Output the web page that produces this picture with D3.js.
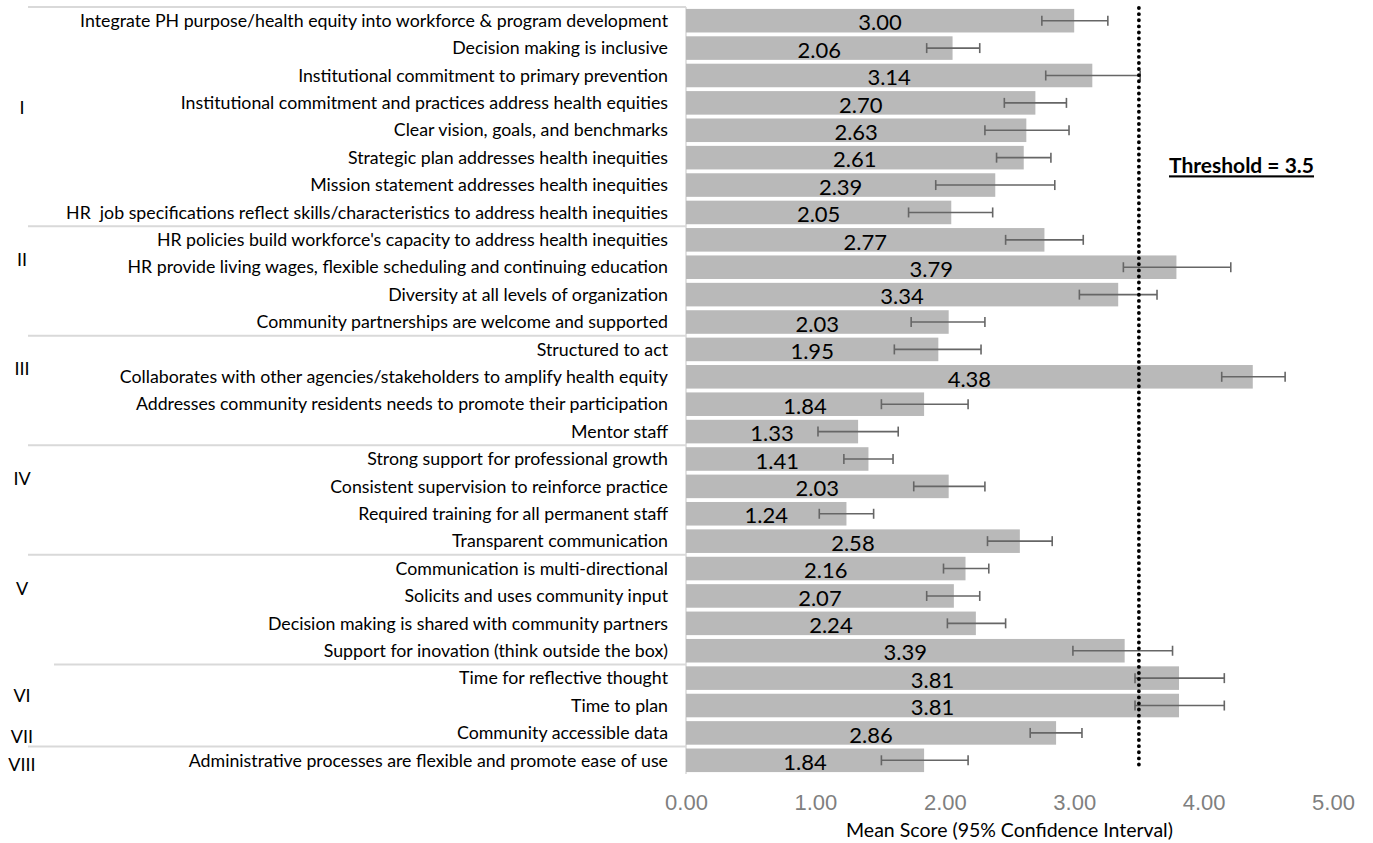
<!DOCTYPE html>
<html lang="en">
<head>
  <meta charset="UTF-8">
  <title>Mean Score by Item</title>
  <script src="https://d3js.org/d3.v7.min.js"></script>
  <style>
    body { margin: 0; background: #fff; font-family: Lato, "Open Sans", sans-serif; }
    .cat { font-size: 17.75px; fill: #000; white-space: pre; }
    .grp { font-size: 18px; fill: #000; }
    .val { font-size: 22px; fill: #000; }
    .tick text { font-size: 22px; fill: #7f7f7f; }
  </style>
</head>
<body>
<div id="chart"></div>
<script>
// data
const categories = [
  "Integrate PH purpose/health equity into workforce & program development",
  "Decision making is inclusive",
  "Institutional commitment to primary prevention",
  "Institutional commitment and practices address health equities",
  "Clear vision, goals, and benchmarks",
  "Strategic plan addresses health inequities",
  "Mission statement addresses health inequities",
  "HR  job specifications reflect skills/characteristics to address health inequities",
  "HR policies build workforce's capacity to address health inequities",
  "HR provide living wages, flexible scheduling and continuing education",
  "Diversity at all levels of organization",
  "Community partnerships are welcome and supported",
  "Structured to act",
  "Collaborates with other agencies/stakeholders to amplify health equity",
  "Addresses community residents needs to promote their participation",
  "Mentor staff",
  "Strong support for professional growth",
  "Consistent supervision to reinforce practice",
  "Required training for all permanent staff",
  "Transparent communication",
  "Communication is multi-directional",
  "Solicits and uses community input",
  "Decision making is shared with community partners",
  "Support for inovation (think outside the box)",
  "Time for reflective thought",
  "Time to plan",
  "Community accessible data",
  "Administrative processes are flexible and promote ease of use"
];
const means = [3.00, 2.06, 3.14, 2.70, 2.63, 2.61, 2.39, 2.05, 2.77, 3.79, 3.34, 2.03, 1.95, 4.38,
  1.84, 1.33, 1.41, 2.03, 1.24, 2.58, 2.16, 2.07, 2.24, 3.39, 3.81, 3.81, 2.86, 1.84];
const ciLow = [2.75, 1.86, 2.78, 2.46, 2.31, 2.40, 1.93, 1.72, 2.47, 3.38, 3.04, 1.74, 1.61, 4.14,
  1.51, 1.02, 1.22, 1.76, 1.03, 2.33, 1.99, 1.86, 2.02, 2.99, 3.47, 3.47, 2.66, 1.51];
const ciHigh = [3.26, 2.27, 3.51, 2.94, 2.96, 2.82, 2.85, 2.37, 3.07, 4.21, 3.64, 2.31, 2.28, 4.63,
  2.18, 1.64, 1.60, 2.31, 1.45, 2.83, 2.34, 2.27, 2.47, 3.76, 4.16, 4.16, 3.06, 2.18];
const groups = ["I", "II", "III", "IV", "V", "VI", "VII", "VIII"];
const groupSizes = [8, 4, 4, 4, 4, 2, 1, 1];
const groupRule = [true, true, true, true, true, true, false, true];
const xTicks = [0, 1, 2, 3, 4, 5];
const threshold = 3.5;

const width = 1373, height = 843;
const svg = d3.select("#chart").append("svg")
  .attr("width", width).attr("height", height);

const x = d3.scaleLinear().domain([0, 5]).range([686, 1333]);
const y = d3.scaleBand().domain(d3.range(categories.length))
  .range([7, 774]).paddingInner(0.14).paddingOuter(0.07);
const step = y.step();
const rowTop = i => y(i) - y.paddingInner() * step / 2;

// group separators
let start = 0;
const groupInfo = groups.map((g, k) => {
  const info = { name: g, start, end: start + groupSizes[k], rule: groupRule[k] };
  start += groupSizes[k];
  return info;
});
svg.append("g").selectAll("line")
  .data(groupInfo.filter(d => d.rule))
  .join("line")
  .attr("x1", d => d.name === "VI" ? 54 : 28)
  .attr("x2", 686)
  .attr("y1", d => rowTop(d.start))
  .attr("y2", d => rowTop(d.start))
  .attr("stroke", "#d9d9d9").attr("stroke-width", 2);

// vertical category axis line
svg.append("line")
  .attr("x1", 686).attr("x2", 686)
  .attr("y1", rowTop(0)).attr("y2", rowTop(categories.length - 1) + step)
  .attr("stroke", "#d9d9d9").attr("stroke-width", 1.5);

// group labels
svg.append("g").selectAll("text")
  .data(groupInfo)
  .join("text")
  .attr("class", "grp")
  .attr("x", 22)
  .attr("y", d => {
    const top = rowTop(d.start), h = (d.end - d.start) * step;
    if (h > 200) return top + h * 0.43 + 6;
    if (h > 100) return top + h * 0.25 + 6;
    return top + h * 0.5 + 4;
  })
  .attr("dy", "0.35em")
  .attr("text-anchor", "middle")
  .text(d => d.name);

// category labels
svg.append("g").selectAll("text")
  .data(categories)
  .join("text")
  .attr("class", "cat")
  .attr("x", 668)
  .attr("y", (d, i) => y(i) + y.bandwidth() / 2)
  .attr("dy", "0.35em")
  .attr("text-anchor", "end")
  .text(d => d);

// bars
svg.append("g").selectAll("rect")
  .data(means)
  .join("rect")
  .attr("x", x(0))
  .attr("y", (d, i) => y(i))
  .attr("width", d => x(d) - x(0))
  .attr("height", y.bandwidth())
  .attr("fill", "#b9b9b9");

// value labels
svg.append("g").selectAll("text")
  .data(means)
  .join("text")
  .attr("class", "val")
  .attr("x", d => (x(0) + x(d)) / 2)
  .attr("y", (d, i) => y(i) + y.bandwidth() / 2 + 2)
  .attr("dy", "0.35em")
  .attr("text-anchor", "middle")
  .text(d => d.toFixed(2));

// error bars
const err = svg.append("g").attr("stroke", "#666").attr("stroke-width", 1.6);
means.forEach((m, i) => {
  const cy = y(i) + y.bandwidth() / 2;
  err.append("line").attr("x1", x(ciLow[i])).attr("x2", x(ciHigh[i]))
    .attr("y1", cy).attr("y2", cy);
  [ciLow[i], ciHigh[i]].forEach(v => {
    err.append("line").attr("x1", x(v)).attr("x2", x(v))
      .attr("y1", cy - 5).attr("y2", cy + 5);
  });
});

// threshold line
svg.append("line")
  .attr("x1", x(threshold)).attr("x2", x(threshold))
  .attr("y1", 8).attr("y2", 770)
  .attr("stroke", "#000").attr("stroke-width", 3.8)
  .attr("stroke-linecap", "round")
  .attr("stroke-dasharray", "0.1,6");

svg.append("text")
  .attr("x", 1169).attr("y", 166)
  .attr("dy", "0.35em")
  .style("font-size", "21px").style("font-weight", "bold")
  .style("text-decoration", "underline")
  .text("Threshold = " + threshold);

// x axis
const xAxis = d3.axisBottom(x).tickValues(xTicks)
  .tickFormat(d3.format(".2f")).tickSize(0).tickPadding(0);
const gx = svg.append("g").attr("transform", "translate(0,794)").call(xAxis);
gx.select(".domain").remove();
gx.selectAll("text").attr("dy", "0.71em");

svg.append("text")
  .attr("x", (x(0) + x(5)) / 2).attr("y", 830)
  .attr("dy", "0.35em")
  .attr("text-anchor", "middle")
  .style("font-size", "19.5px")
  .text("Mean Score (95% Confidence Interval)");
</script>
</body>
</html>
